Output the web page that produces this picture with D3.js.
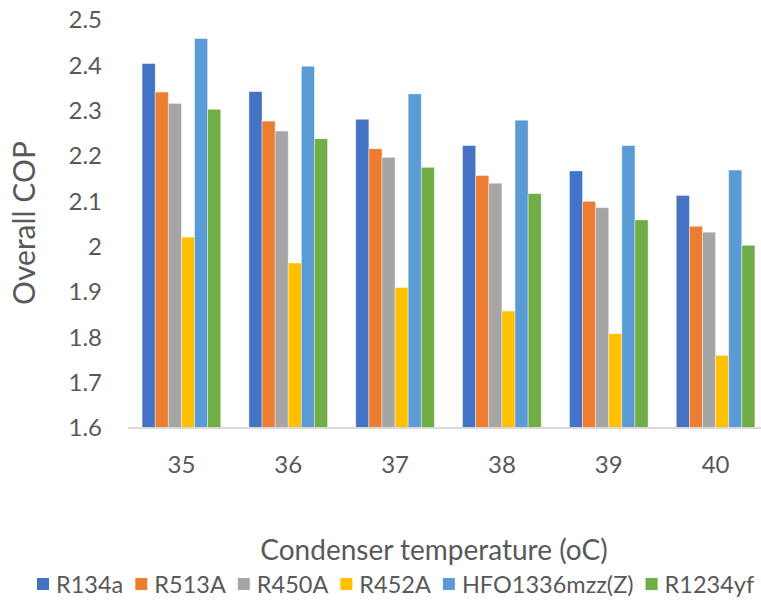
<!DOCTYPE html>
<html><head><meta charset="utf-8">
<script src="https://cdn.jsdelivr.net/npm/d3@7"></script>
<style>html,body{margin:0;padding:0;background:#fff;}svg{display:block;font-family:Lato,"Open Sans",sans-serif;}</style>
</head><body>
<svg id="c" width="761" height="602"></svg>
<script>
const categories = ["35","36","37","38","39","40"];
const seriesNames = ["R134a","R513A","R450A","R452A","HFO1336mzz(Z)","R1234yf"];
const R134a = [2.404,2.342,2.281,2.223,2.167,2.113];
const R513A = [2.341,2.277,2.216,2.157,2.100,2.045];
const R450A = [2.316,2.255,2.197,2.140,2.086,2.032];
const R452A = [2.021,1.964,1.910,1.858,1.808,1.760];
const HFO1336mzzZ = [2.459,2.398,2.337,2.279,2.223,2.169];
const R1234yf = [2.303,2.238,2.175,2.117,2.059,2.003];
const yTicks = [1.6,1.7,1.8,1.9,2.0,2.1,2.2,2.3,2.4,2.5];
const colors = ["#4472C4","#ED7D31","#A5A5A5","#FFC000","#5B9BD5","#70AD47"];
const seriesValues = [R134a,R513A,R450A,R452A,HFO1336mzzZ,R1234yf];

const svg = d3.select("#c");
const x0 = d3.scaleBand().domain(categories).range([128,769]).padding(0);
const x1 = d3.scaleBand().domain(seriesNames).range([14.1, x0.bandwidth()-14.1]).padding(0);
const y = d3.scaleLinear().domain([1.6,2.5]).range([428,20]);
const txt = "#595959";

// bars
const g = svg.append("g");
categories.forEach((c,ci)=>{
  seriesNames.forEach((s,si)=>{
    const v = seriesValues[si][ci];
    g.append("rect")
      .attr("x", x0(c)+x1(s))
      .attr("y", y(v))
      .attr("width", x1.bandwidth())
      .attr("height", y(1.6)-y(v))
      .attr("fill", colors[si])
      .attr("stroke","#fff").attr("stroke-width",0.8).attr("stroke-opacity",0.5);
  });
});

// baseline
svg.append("line").attr("x1",128).attr("x2",761).attr("y1",y(1.6)).attr("y2",y(1.6))
  .attr("stroke","#d9d9d9").attr("stroke-width",2);

// y axis labels
const yAxis = d3.axisLeft(y).tickValues(yTicks).tickSize(0).tickPadding(0)
  .tickFormat(d=>String(+d.toFixed(1)));
const ya = svg.append("g").attr("transform","translate(102,0)").call(yAxis);
ya.select(".domain").remove();
ya.selectAll("text").attr("fill",txt).style("font-size","24px").style("font-family","Lato");

// x axis labels
const xAxis = d3.axisBottom(x0).tickSize(0).tickPadding(0);
const xa = svg.append("g").attr("transform","translate(0,456)").call(xAxis);
xa.select(".domain").remove();
xa.selectAll("text").attr("fill",txt).style("font-size","24px").style("font-family","Lato");

// axis titles
svg.append("text").attr("x",434).attr("y",560).attr("text-anchor","middle")
  .attr("fill",txt).style("font-size","28px").text("Condenser temperature (oC)");
svg.append("text").attr("transform","translate(35,223) rotate(-90)").attr("text-anchor","middle")
  .attr("fill",txt).style("font-size","30px").text("Overall COP");

// legend
const lg = svg.append("g");
let lx = 37;
seriesNames.forEach((s,i)=>{
  lg.append("rect").attr("x",lx).attr("y",578).attr("width",12).attr("height",12).attr("fill",colors[i]);
  const t = lg.append("text").attr("x",lx+19).attr("y",593).attr("fill",txt).style("font-size","23.5px").text(s);
  lx += 19 + t.node().getComputedTextLength() + 12;
});
</script>
</body></html>
